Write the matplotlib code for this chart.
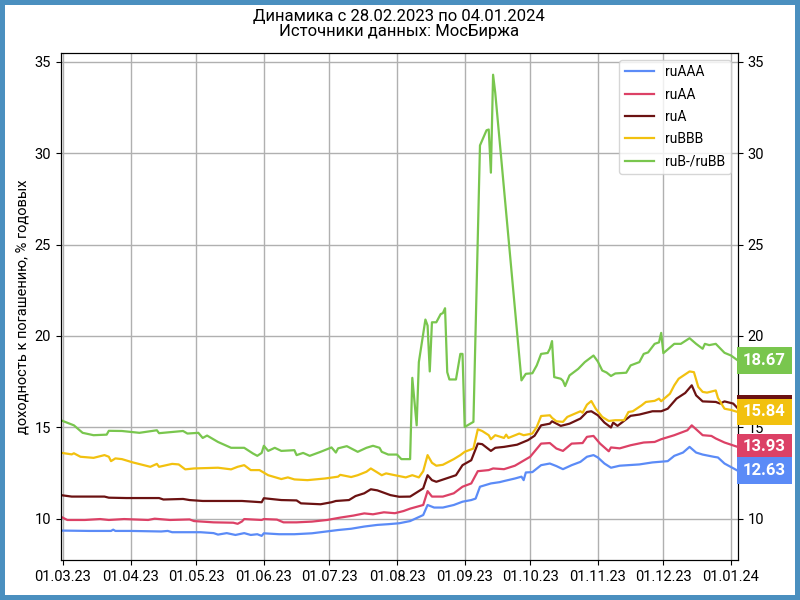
import numpy as np
import pandas as pd
import matplotlib
matplotlib.use("Agg")
import matplotlib.pyplot as plt
import matplotlib.dates as mdates

plt.rcParams["font.family"] = ["Roboto", "DejaVu Sans"]

# ══════════════════════════════════════════════════════════════════
# DATA  (days since 28.02.2023, yield % p.a.)
# ══════════════════════════════════════════════════════════════════
START = pd.Timestamp("2023-02-28")
END   = pd.Timestamp("2024-01-04")

aaa_days = [0, 13, 23, 24, 25, 32, 46, 49, 51, 64, 70, 72, 76, 80, 84, 87, 90, 92, 93,
            100, 107, 115, 121, 127, 133, 139, 145, 150, 155, 160, 166, 168, 171, 175,
            180, 184, 188, 190, 192, 197, 201, 203, 208, 211, 212, 213, 216, 220, 224,
            227, 230, 234, 238, 241, 244, 246, 249, 252, 256, 265, 271, 278, 281, 285,
            288, 291, 294, 299, 301, 304, 310]
aaa_vals = [9.35, 9.33, 9.33, 9.40, 9.33, 9.33, 9.30, 9.33, 9.26, 9.26, 9.21, 9.13, 9.21,
            9.11, 9.21, 9.11, 9.15, 9.06, 9.20, 9.15, 9.15, 9.20, 9.29, 9.38, 9.45, 9.57,
            9.66, 9.70, 9.75, 9.87, 10.20, 10.75, 10.61, 10.61, 10.75, 10.93, 11.02, 11.10,
            11.75, 11.93, 12.00, 12.06, 12.20, 12.30, 12.11, 12.53, 12.55, 12.93, 13.02,
            12.88, 12.71, 12.93, 13.11, 13.39, 13.48, 13.35, 13.02, 12.79, 12.90, 12.97,
            13.08, 13.15, 13.44, 13.62, 13.93, 13.62, 13.51, 13.39, 13.35, 13.02, 12.63]

aa_days = [0, 3, 11, 18, 22, 29, 40, 43, 50, 59, 61, 70, 79, 81, 83, 84, 92, 93, 99, 102,
           108, 115, 122, 128, 134, 139, 143, 148, 153, 157, 160, 166, 168, 170, 175, 180,
           184, 188, 191, 196, 198, 203, 208, 215, 220, 224, 227, 230, 234, 239, 241, 244,
           247, 251, 252, 256, 261, 267, 272, 275, 281, 287, 289, 294, 298, 300, 304, 310]
aa_vals = [10.11, 9.93, 9.93, 9.98, 9.93, 9.98, 9.93, 10.00, 9.93, 9.96, 9.87, 9.80, 9.78,
           9.72, 9.85, 9.98, 9.93, 9.98, 9.95, 9.80, 9.80, 9.84, 9.93, 10.06, 10.17, 10.29,
           10.24, 10.35, 10.30, 10.42, 10.55, 10.75, 11.51, 11.21, 11.21, 11.39, 11.75,
           11.93, 12.60, 12.66, 12.75, 12.71, 12.90, 13.39, 14.11, 14.14, 13.84, 13.71,
           14.11, 14.14, 14.48, 14.53, 14.11, 13.69, 13.90, 13.85, 14.02, 14.17, 14.20,
           14.35, 14.57, 14.84, 15.11, 14.57, 14.53, 14.39, 14.17, 13.93]

a_days = [0, 5, 20, 22, 30, 45, 47, 56, 59, 65, 83, 92, 93, 101, 108, 110, 119, 124, 126,
          132, 135, 139, 142, 145, 151, 155, 160, 166, 168, 170, 172, 181, 184, 188, 191,
          193, 197, 199, 203, 209, 214, 217, 220, 224, 225, 229, 233, 238, 241, 243, 246,
          249, 252, 253, 255, 261, 265, 271, 275, 278, 282, 286, 289, 291, 294, 300, 302,
          304, 308, 310]
a_vals = [11.29, 11.21, 11.21, 11.15, 11.13, 11.13, 11.05, 11.08, 11.02, 10.97, 10.97,
          10.90, 11.12, 11.02, 11.00, 10.84, 10.79, 10.90, 10.97, 11.02, 11.24, 11.39,
          11.61, 11.55, 11.29, 11.20, 11.21, 11.66, 12.38, 12.11, 12.02, 12.38, 12.93,
          13.20, 14.11, 14.08, 13.71, 13.88, 13.93, 14.05, 14.30, 14.54, 15.11, 15.20,
          15.33, 15.08, 15.20, 15.48, 15.84, 15.88, 15.66, 15.26, 14.99, 15.26, 15.08,
          15.63, 15.70, 15.88, 15.88, 16.02, 16.57, 16.88, 17.30, 16.75, 16.42, 16.39,
          16.30, 16.42, 16.30, 16.05]

bbb_days = [0, 5, 6, 9, 15, 20, 22, 23, 25, 28, 33, 38, 41, 44, 45, 51, 54, 57, 61, 72,
            78, 81, 84, 87, 91, 95, 101, 104, 107, 113, 121, 127, 128, 133, 136, 140, 142,
            145, 147, 149, 153, 158, 161, 164, 166, 168, 170, 172, 175, 180, 183, 185, 189,
            191, 193, 196, 197, 199, 203, 204, 205, 210, 212, 216, 218, 220, 224, 225, 227,
            230, 232, 238, 239, 241, 243, 245, 248, 251, 254, 258, 260, 262, 266, 268, 272,
            274, 275, 279, 281, 283, 288, 290, 292, 294, 296, 300, 301, 304, 307, 310]
bbb_vals = [13.61, 13.52, 13.58, 13.39, 13.33, 13.48, 13.39, 13.15, 13.30, 13.26, 13.08,
            12.93, 12.84, 13.00, 12.84, 13.00, 12.97, 12.70, 12.75, 12.79, 12.70, 12.84,
            12.93, 12.66, 12.66, 12.38, 12.17, 12.26, 12.15, 12.11, 12.20, 12.30, 12.40,
            12.28, 12.38, 12.57, 12.75, 12.53, 12.38, 12.48, 12.38, 12.26, 12.38, 12.26,
            12.60, 13.48, 13.06, 12.90, 12.95, 13.26, 13.48, 13.66, 13.84, 14.89, 14.80,
            14.57, 14.35, 14.57, 14.42, 14.60, 14.42, 14.66, 14.57, 14.66, 15.02, 15.62,
            15.66, 15.52, 15.33, 15.30, 15.57, 15.88, 15.80, 16.24, 16.44, 16.02, 15.57,
            15.35, 15.39, 15.39, 15.84, 15.88, 16.20, 16.39, 16.45, 16.57, 16.43, 16.84,
            17.30, 17.66, 18.06, 18.02, 17.21, 16.94, 16.90, 17.02, 16.61, 16.02, 15.95,
            15.84]

bb_days = [0, 6, 10, 15, 21, 22, 28, 36, 44, 45, 56, 58, 63, 65, 67, 72, 78, 84, 88, 90,
           92, 93, 95, 98, 101, 107, 108, 111, 114, 119, 124, 126, 127, 131, 136, 140, 143,
           146, 147, 150, 154, 156, 160, 161, 163, 164, 167, 168, 169, 170, 172, 174, 175,
           176, 177, 178, 181, 183, 184, 185, 189, 192, 195, 196, 197, 198, 199, 211, 213,
           216, 218, 220, 223, 224, 225, 226, 229, 230, 231, 233, 237, 240, 244, 246, 248,
           250, 252, 254, 259, 261, 265, 267, 269, 272, 274, 275, 276, 281, 284, 288, 291,
           294, 295, 297, 300, 304, 307, 310]
bb_vals = [15.39, 15.11, 14.70, 14.57, 14.60, 14.81, 14.80, 14.70, 14.84, 14.68, 14.80,
           14.66, 14.70, 14.42, 14.55, 14.20, 13.88, 13.88, 13.57, 13.44, 13.60, 13.99,
           13.71, 13.88, 13.71, 13.75, 13.48, 13.60, 13.44, 13.66, 13.90, 13.62, 13.85,
           13.97, 13.66, 13.88, 13.99, 13.88, 13.66, 13.51, 13.51, 13.26, 13.26, 17.71,
           15.11, 18.57, 20.90, 20.57, 18.06, 20.75, 20.75, 21.20, 21.25, 21.52, 18.02,
           17.62, 17.62, 19.02, 19.02, 15.02, 15.30, 30.43, 31.26, 31.30, 28.94, 34.30,
           33.30, 17.57, 17.93, 17.96, 18.39, 19.02, 19.07, 19.30, 19.72, 17.75, 17.66,
           17.55, 17.26, 17.84, 18.20, 18.57, 18.93, 18.60, 18.11, 18.00, 17.81, 17.95,
           17.99, 18.39, 18.57, 19.02, 19.10, 19.57, 19.65, 20.17, 19.06, 19.57, 19.57,
           19.88, 19.57, 19.30, 19.57, 19.50, 19.57, 19.08, 18.93, 18.67]

names  = ["ruAAA", "ruAA", "ruA", "ruBBB", "ruB-/ruBB"]
days   = [aaa_days, aa_days, a_days, bbb_days, bb_days]
values = [aaa_vals, aa_vals, a_vals, bbb_vals, bb_vals]
colors = ["#5B8BF7", "#DC4166", "#6B1212", "#F2C10F", "#79C64E"]

# ══════════════════════════════════════════════════════════════════
# PLOT
# ══════════════════════════════════════════════════════════════════
fig = plt.figure(figsize=(8, 6), dpi=100)
fig.patch.set_edgecolor("#4A8FBF")
fig.patch.set_linewidth(5.8)
ax = fig.add_axes([0.076, 0.067, 0.846, 0.845])

for nm, d, v, c in zip(names, days, values, colors):
    dates = START + pd.to_timedelta(d, unit="D")
    ax.plot(dates, v, color=c, lw=1.6, label=nm)

ax.set_xlim(START, END)
ax.set_ylim(7.75, 35.5)
ax.set_yticks([10, 15, 20, 25, 30, 35])
ax.xaxis.set_major_locator(mdates.MonthLocator())
ax.xaxis.set_major_formatter(mdates.DateFormatter("%d.%m.%y"))
ax.grid(True, color="#b0b0b0", lw=1)
ax.tick_params(labelsize=10.5)
ax.set_ylabel("доходность к погашению, % годовых", fontsize=10.5)
ax.set_title("Динамика с 28.02.2023 по 04.01.2024\nИсточники данных: МосБиржа",
             fontsize=12, pad=12, linespacing=1.0)
ax.legend(loc="upper right", fontsize=10, handlelength=2.1, borderaxespad=0.5,
          labelspacing=0.6)

ax2 = ax.twinx()
ax2.set_ylim(ax.get_ylim())
ax2.set_yticks([10, 15, 20, 25, 30, 35])
ax2.tick_params(labelsize=10.5)

# last-value labels on the right (ruA drawn first, yellow covers it)
for i in [2, 4, 3, 1, 0]:
    ax2.annotate(f"{values[i][-1]:.2f}", xy=(1.008, values[i][-1]),
                 xycoords=("axes fraction", "data"), ha="left", va="center",
                 fontsize=12, fontweight="bold", color="white",
                 bbox=dict(boxstyle="square,pad=0.35", fc=colors[i], ec="none"),
                 annotation_clip=False)

fig.savefig("out.png", dpi=100)
